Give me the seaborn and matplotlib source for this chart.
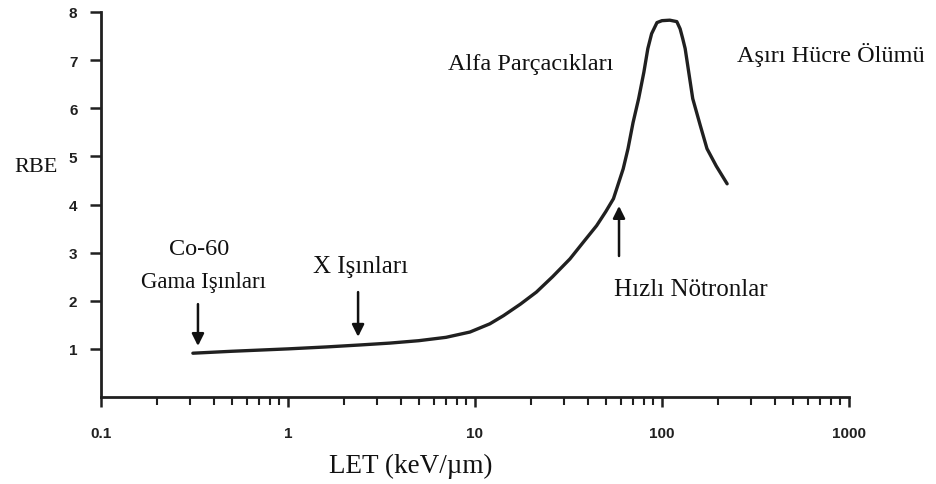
import numpy as np
import pandas as pd
import matplotlib
matplotlib.use("Agg")
import matplotlib.pyplot as plt
import seaborn as sns

# LET (keV/um) vs RBE curve
let_values = [0.31, 0.5, 1.0, 1.6, 2.4, 3.5, 5.0, 7.0, 9.4, 12.0, 14.2, 17.5, 21.3,
              26.0, 32.2, 38.0, 44.7, 50.0, 55.0, 62.0, 65.8, 70.0, 75.0, 80.0, 84.0,
              88.0, 94.0, 100.0, 110.0, 120.0, 125.0, 129.0, 133.0, 146.0, 160.0,
              174.0, 195.0, 223.0]
rbe_values = [0.91, 0.95, 1.0, 1.04, 1.08, 1.12, 1.17, 1.24, 1.35, 1.52, 1.69, 1.93, 2.18,
              2.50, 2.87, 3.22, 3.56, 3.85, 4.12, 4.74, 5.16, 5.70, 6.20, 6.75, 7.24,
              7.55, 7.78, 7.82, 7.83, 7.80, 7.65, 7.45, 7.24, 6.20, 5.65,
              5.16, 4.80, 4.43]

x_ticks = [0.1, 1, 10, 100, 1000]
x_tick_labels = ["0.1", "1", "10", "100", "1000"]
y_ticks = [1, 2, 3, 4, 5, 6, 7, 8]

# label texts with their (x, y) positions in data units
labels = ["Co-60", "Gama Işınları", "X Işınları", "Hızlı Nötronlar",
          "Alfa Parçacıkları", "Aşırı Hücre Ölümü"]
label_x = [0.335, 0.355, 2.43, 143, 19.9, 800]
label_y = [3.08, 2.41, 2.72, 2.25, 6.92, 7.13]
label_size = [17.5, 16.5, 18, 18, 17.5, 17.5]

# arrows: x, start y, end y
arrow_x = [0.33, 2.37, 58.9]
arrow_y0 = [1.93, 2.18, 2.93]
arrow_y1 = [1.06, 1.25, 3.97]

df = pd.DataFrame({"LET": let_values, "RBE": rbe_values})

sns.set_style("ticks")
plt.rcParams["font.family"] = ["Liberation Sans", "DejaVu Sans"]

fig = plt.figure(figsize=(9.37, 4.85), dpi=100)
ax = fig.add_axes([101 / 937, 1 - 398 / 485, 748 / 937, 385 / 485])

sns.lineplot(data=df, x="LET", y="RBE", ax=ax, color="#202020", linewidth=2.4,
             sort=False, estimator=None)

ax.set_xscale("log")
ax.set_xlim(0.1, 1000)
ax.set_ylim(0, 8)
ax.set_xticks(x_ticks)
ax.set_xticklabels(x_tick_labels)
ax.set_yticks(y_ticks)
ax.set_yticklabels([str(v) for v in y_ticks])
ax.xaxis.set_minor_formatter(matplotlib.ticker.NullFormatter())

for side in ["top", "right"]:
    ax.spines[side].set_visible(False)
for side in ["left", "bottom"]:
    ax.spines[side].set_linewidth(2)
    ax.spines[side].set_color("#202020")

ax.tick_params(axis="y", which="major", length=8, width=1.8, color="#202020",
               labelsize=11, labelcolor="#202020", pad=9)
ax.tick_params(axis="x", which="major", length=7, width=1.8, color="#202020",
               labelsize=11, labelcolor="#202020", pad=14)
ax.tick_params(axis="x", which="minor", length=6, width=1.5, color="#202020")
for lab in ax.get_xticklabels() + ax.get_yticklabels():
    lab.set_fontweight("bold")

serif = ["Liberation Serif", "DejaVu Serif"]
ax.set_xlabel("")
ax.set_ylabel("")
fig.text(411 / 937, 1 - 466 / 485, "LET (keV/µm)", family=serif, fontsize=19.5,
         color="#111111", ha="center", va="center")
fig.text(36 / 937, 1 - 167 / 485, "RBE", family=serif, fontsize=16,
         color="#111111", ha="center", va="center")

for txt, tx, ty, fs in zip(labels, label_x, label_y, label_size):
    ax.text(tx, ty, txt, family=serif, fontsize=fs, color="#111111",
            ha="center", va="center", clip_on=False)

for xa, y0, y1 in zip(arrow_x, arrow_y0, arrow_y1):
    ax.annotate("", xy=(xa, y1), xytext=(xa, y0),
                arrowprops=dict(arrowstyle="-|>", color="#111111", lw=1.8,
                                mutation_scale=18, shrinkA=0, shrinkB=0))

fig.savefig("out.png", dpi=100)
